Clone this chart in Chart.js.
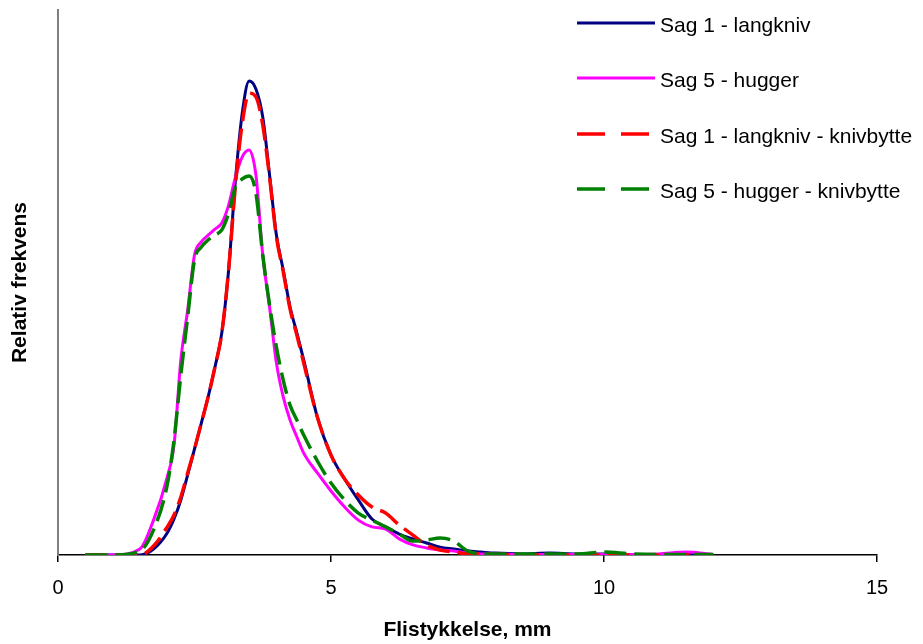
<!DOCTYPE html>
<html lang="no">
<head>
<meta charset="utf-8">
<title>Flistykkelse</title>
<script src="https://cdn.jsdelivr.net/npm/chart.js@4.4.1/dist/chart.umd.min.js"></script>
<style>
    html, body { margin: 0; padding: 0; background: #fff; }
    #wrap { width: 923px; height: 644px; position: relative; }
</style>
</head>
<body>
<div id="wrap"><canvas id="fordeling"></canvas></div>
<script>
// Flistykkelse (mm)
const tykkelse = [0.5, 1.0, 1.5, 1.75, 2.0, 2.125, 2.25, 2.375, 2.5, 2.625, 2.75, 2.875, 3.0, 3.125, 3.25, 3.375, 3.5, 3.625, 3.75, 3.875,
    4.0, 4.125, 4.25, 4.375, 4.5, 4.75, 5.0, 5.25, 5.5, 5.75, 6.0, 6.25, 6.5, 6.75, 7.0, 7.25, 7.5, 7.75, 8.0, 8.5, 9.0, 9.5,
    10.0, 10.5, 11.0, 11.5, 12.0];

// Relativ frekvens (%)
const sag1Langkniv = [0, 0, 0, 0.22, 0.81, 1.32, 2.02, 2.94, 3.89, 4.84, 5.80, 6.90, 8.15, 10.46, 13.76, 16.22, 17.39, 17.10, 16.07, 13.94,
    11.74, 10.46, 9.10, 8.15, 7.16, 5.06, 3.67, 2.79, 2.02, 1.32, 1.03, 0.77, 0.59, 0.44, 0.29, 0.22, 0.15, 0.11, 0.07, 0.04, 0.07, 0.04,
    0.04, 0.02, 0.02, 0.02, 0];
const sag5Hugger = [0, 0, 0.22, 1.28, 2.86, 4.04, 7.16, 8.99, 11.01, 11.49, 11.74, 11.96, 12.18, 12.84, 13.87, 14.61, 14.86, 13.94, 11.01, 9.10,
    7.05, 5.80, 4.95, 4.33, 3.74, 3.01, 2.35, 1.76, 1.28, 1.03, 0.95, 0.59, 0.37, 0.26, 0.18, 0.15, 0.07, 0.04, 0.04, 0.02, 0.02, 0.02,
    0.02, 0.02, 0.04, 0.11, 0.02];
const sag1Knivbytte = [0, 0, 0, 0.33, 1.03, 1.47, 2.13, 3.01, 3.89, 4.84, 5.80, 6.90, 8.15, 10.46, 13.58, 15.85, 16.95, 16.81, 15.78, 13.87,
    11.67, 10.40, 9.03, 8.07, 7.05, 5.06, 3.67, 2.79, 2.20, 1.76, 1.54, 1.10, 0.73, 0.37, 0.18, 0.11, 0.04, 0.04, 0.02, 0, 0, 0,
    0, 0, 0, 0, 0];
const sag5Knivbytte = [0, 0, 0.15, 0.92, 2.57, 4.22, 6.61, 8.73, 10.83, 11.30, 11.56, 11.74, 11.93, 12.55, 13.50, 13.80, 13.91, 13.28, 11.01, 9.17,
    7.63, 6.42, 5.50, 4.95, 4.40, 3.45, 2.64, 2.02, 1.54, 1.28, 1.03, 0.77, 0.51, 0.55, 0.62, 0.51, 0.15, 0.04, 0.04, 0.04, 0.04, 0.04,
    0.11, 0.04, 0.02, 0.02, 0.02];

const xTicks = [0, 5, 10, 15];

const FONT = '"Liberation Sans", Arial, sans-serif';

const tilPunkter = verdier => tykkelse.map((x, i) => ({ x, y: verdier[i] }));

const serie = (label, verdier, farge, strek, rekkefolge) => ({
    label,
    data: tilPunkter(verdier),
    borderColor: farge,
    backgroundColor: farge,
    borderWidth: strek ? 3.5 : 3,
    borderDash: strek ? [22, 8] : [],
    legendDash: strek ? [28, 16] : [],
    pointRadius: 0,
    cubicInterpolationMode: 'monotone',
    fill: false,
    order: rekkefolge
});

// Egen tegnforklaring oppe til høyre, inne i plottet
const tegnforklaring = {
    id: 'tegnforklaring',
    afterDraw(chart) {
        const ctx = chart.ctx;
        const radY = [23, 78, 134, 189];
        ctx.save();
        chart.data.datasets.forEach((ds, i) => {
            const y = radY[i];
            ctx.strokeStyle = ds.borderColor;
            ctx.lineWidth = ds.borderWidth;
            ctx.setLineDash(ds.legendDash);
            ctx.beginPath();
            ctx.moveTo(577, y);
            ctx.lineTo(655, y);
            ctx.stroke();
            ctx.setLineDash([]);
            ctx.fillStyle = '#000';
            ctx.font = '21px ' + FONT;
            ctx.textBaseline = 'alphabetic';
            ctx.textAlign = 'left';
            ctx.fillText(ds.label, 660, y + 8.5);
        });
        ctx.restore();
    }
};

new Chart(document.getElementById('fordeling'), {
    type: 'line',
    data: {
        datasets: [
            serie('Sag 1 - langkniv', sag1Langkniv, '#000080', false, 4),
            serie('Sag 5 - hugger', sag5Hugger, '#FF00FF', false, 3),
            serie('Sag 1 - langkniv - knivbytte', sag1Knivbytte, '#FF0000', true, 2),
            serie('Sag 5 - hugger - knivbytte', sag5Knivbytte, '#008000', true, 1)
        ]
    },
    options: {
        responsive: true,
        maintainAspectRatio: false,
        animation: false,
        layout: { padding: { top: 10, right: 46, left: 0, bottom: 0 } },
        plugins: {
            legend: { display: false },
            tooltip: { enabled: false }
        },
        scales: {
            x: {
                type: 'linear',
                min: 0,
                max: 15,
                afterBuildTicks: scale => { scale.ticks = xTicks.map(value => ({ value })); },
                afterFit: scale => { scale.height = 89; },
                border: { color: '#000', width: 1.5 },
                grid: { display: true, drawOnChartArea: false, drawTicks: true, tickLength: 7, color: '#000', lineWidth: 1.5 },
                ticks: { color: '#000', padding: 14, maxRotation: 0, font: { family: FONT, size: 20 } },
                title: {
                    display: true,
                    text: 'Flistykkelse, mm',
                    color: '#000',
                    padding: { top: 0, bottom: 1 },
                    font: { family: FONT, size: 21, weight: 'bold' }
                }
            },
            y: {
                min: 0,
                max: 20,
                afterFit: scale => { scale.width = 58; },
                border: { color: '#808080', width: 2 },
                grid: { display: false },
                ticks: { display: false },
                title: {
                    display: true,
                    text: 'Relativ frekvens',
                    color: '#000',
                    padding: { top: 8, bottom: 0 },
                    font: { family: FONT, size: 21, weight: 'bold' }
                }
            }
        }
    },
    plugins: [tegnforklaring]
});
</script>
</body>
</html>
